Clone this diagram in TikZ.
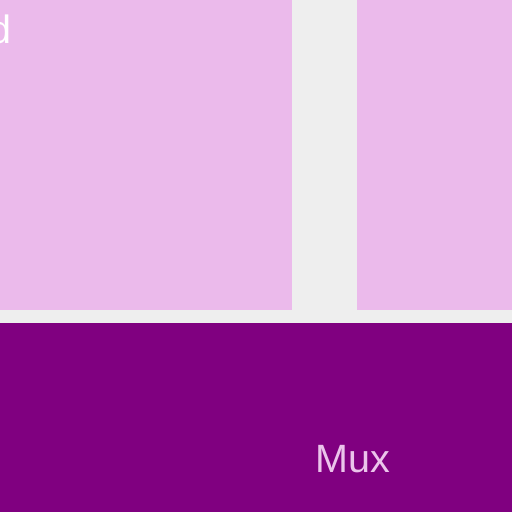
\documentclass[tikz,border=0pt]{standalone}
\usepackage{fontspec}
\setmainfont{Liberation Sans}
\definecolor{bggray}{HTML}{EEEEEE}
\definecolor{lightpink}{HTML}{EBBAEB}
\definecolor{muxpurple}{HTML}{800080}
\definecolor{muxtext}{HTML}{EBC4EB}
\tikzset{
  panel/.style={inner sep=0pt, outer sep=0pt},
  lbl/.style={inner sep=0pt, font=\fontsize{39.5}{42}\selectfont}
}
\begin{document}
\begin{tikzpicture}[x=1pt,y=-1pt]
\useasboundingbox (0,0) rectangle (512,512);
\clip (0,0) rectangle (512,512);
\fill[bggray] (0,0) rectangle (512,512);
\fill[lightpink] (-10,-10) rectangle (292,310);
\fill[lightpink] (357,-10) rectangle (522,310);
\fill[muxpurple] (-10,323) rectangle (522,522);
\node[lbl, text=white, anchor=base east] (d) at (12,43) {d};
\node[lbl, text=muxtext, anchor=base west] (mux) at (315,472) {Mux};
\end{tikzpicture}
\end{document}
